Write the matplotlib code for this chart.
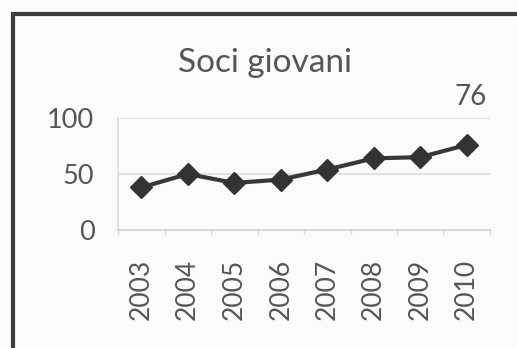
import matplotlib
matplotlib.use("Agg")
import matplotlib.pyplot as plt
from matplotlib.patches import Rectangle

years = ["2003", "2004", "2005", "2006", "2007", "2008", "2009", "2010"]
soci = [38, 50, 42, 45, 54, 64, 65, 76]
yticks = [0, 50, 100]
title = "Soci giovani"

W, H = 517, 348
fig = plt.figure(figsize=(W / 100, H / 100), dpi=100)
fig.patch.set_facecolor("#fbfbfb")

# dark frame around the chart
fig.patches.append(Rectangle((13 / W, -0.05), 1.2, (H - 14) / H + 0.05,
                             transform=fig.transFigure, fill=False,
                             edgecolor="#3c3c3c", linewidth=3))

fonts = ["Lato", "DejaVu Sans"]
left, right, top, bottom = 118, 490, 118, 230
ax = fig.add_axes([left / W, 1 - bottom / H, (right - left) / W, (bottom - top) / H])
ax.set_facecolor("none")

x = list(range(len(years)))
ax.plot(x, soci, color="#383838", linewidth=3, marker="D", markersize=11,
        markerfacecolor="#333333", markeredgecolor="#333333", zorder=3)

ax.set_xlim(-0.5, len(years) - 0.5)
ax.set_ylim(0, 100)
ax.set_yticks(yticks)
ax.set_yticklabels([str(v) for v in yticks], fontsize=19.5, color="#555555",
                   family=fonts)
ax.set_xticks(x)
ax.set_xticklabels(years, rotation=90, fontsize=19, color="#555555",
                   family=fonts)
ax.tick_params(axis="x", length=0, pad=21)
ax.tick_params(axis="y", length=0, pad=17)

# category boundary ticks below the axis
for b in [i - 0.5 for i in range(len(years) + 1)]:
    ax.plot([b, b], [0, -4], color="#d8d8d8", linewidth=1, clip_on=False)

for v in yticks[1:]:
    ax.axhline(v, color="#dcdcdc", linewidth=1.2, zorder=0)
for s in ["top", "right"]:
    ax.spines[s].set_visible(False)
ax.spines["left"].set_color("#dcdcdc")
ax.spines["bottom"].set_color("#d0d0d0")
ax.spines["left"].set_linewidth(1.2)
ax.spines["bottom"].set_linewidth(1.2)

ax.annotate(str(soci[-1]), (x[-1], soci[-1]), xytext=(3, 25),
            textcoords="offset points", ha="center", va="bottom",
            fontsize=20, color="#555555", family=fonts)

fig.text(265 / W, 1 - 63 / H, title, ha="center", va="center",
         fontsize=24, color="#555555", family=fonts)

fig.savefig("out.png", dpi=100, facecolor=fig.get_facecolor())
